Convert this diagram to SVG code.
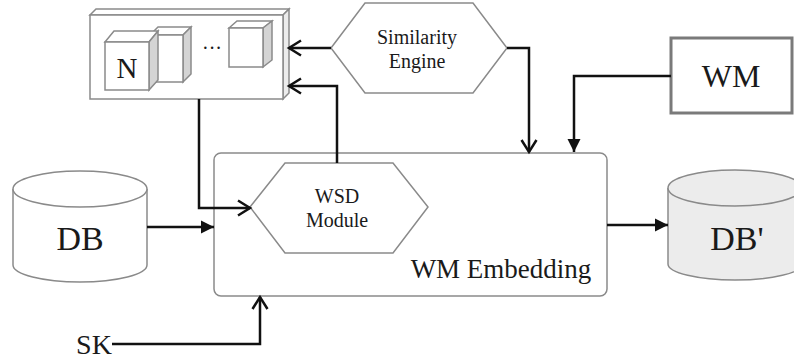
<svg xmlns="http://www.w3.org/2000/svg" width="794" height="364" viewBox="0 0 794 364">
<defs>
<style>
.shape{fill:#fff;stroke:#8a8a8a;stroke-width:1.5}
.side{fill:#d4d4d4;stroke:#8a8a8a;stroke-width:1.5}
.line{fill:none;stroke:#111;stroke-width:2.5}
.t{font-family:"Liberation Serif","Times New Roman",serif;fill:#1a1a1a;text-anchor:middle}
</style>
<marker id="open" markerUnits="userSpaceOnUse" markerWidth="16" markerHeight="18" refX="13" refY="9" orient="auto">
<path d="M1,1.5 L13,9 L1,16.5" fill="none" stroke="#111" stroke-width="2.5"/>
</marker>
<marker id="fill" markerUnits="userSpaceOnUse" markerWidth="14" markerHeight="14" refX="13" refY="7" orient="auto">
<path d="M0,0.5 L13,7 L0,13.5 Z" fill="#111"/>
</marker>
</defs>
<rect width="794" height="364" fill="#fff"/>

<g id="index-box">
<polygon class="shape" points="90,15 96,9 289,9 283,15"/>
<polygon class="side" points="283,15 289,9 289,93 283,99" style="fill:#ececec"/>
<rect class="shape" x="90" y="15" width="193" height="84"/>
<polygon class="shape" points="150,35 158,27 191,27 183,35"/>
<polygon class="side" points="183,35 191,27 191,74 183,82"/>
<rect class="shape" x="150" y="35" width="33" height="47"/>
<polygon class="shape" points="105,42 114,31 158,31 149,42"/>
<polygon class="side" points="149,42 158,31 158,80 149,90"/>
<rect class="shape" x="105" y="42" width="44" height="48"/>
<text class="t" x="127" y="78" font-size="29">N</text>
<text class="t" x="212" y="55" font-size="20">···</text>
<polygon class="shape" points="229,28 237,21 272,21 263,28"/>
<polygon class="side" points="263,28 272,21 272,60 263,67"/>
<rect class="shape" x="229" y="28" width="34" height="39"/>
</g>

<g id="similarity-engine">
<polygon class="shape" points="331,48 365,3 473,3 507,48 473,93 365,93"/>
<text class="t" x="417" y="44" font-size="20">Similarity</text>
<text class="t" x="417" y="68" font-size="20">Engine</text>
</g>

<g id="wm">
<rect x="671" y="38" width="121" height="75" fill="#fff" stroke="#7a7a7a" stroke-width="3"/>
<text class="t" x="731" y="87" font-size="32">WM</text>
</g>

<g id="db">
<path class="shape" d="M13,189 L13,265 A67,17 0 0 0 147,265 L147,189"/>
<ellipse class="shape" cx="80" cy="189" rx="67" ry="18"/>
<text class="t" x="80" y="250" font-size="34">DB</text>
</g>

<g id="wm-embedding">
<rect class="shape" x="214" y="153" width="393" height="143" rx="7"/>
<text class="t" x="501" y="278" font-size="27">WM Embedding</text>
</g>

<g id="wsd-module">
<polygon class="shape" points="250,207 285,163 393,163 428,207 393,253 285,253"/>
<text class="t" x="337" y="203" font-size="20">WSD</text>
<text class="t" x="337" y="227" font-size="20">Module</text>
</g>

<g id="db-prime">
<path class="shape" style="fill:#ececec" d="M668,188 L668,264 A67,16 0 0 0 802,264 L802,188"/>
<ellipse class="shape" style="fill:#ececec" cx="735" cy="188" rx="67" ry="18"/>
<text class="t" x="737" y="250" font-size="34">DB'</text>
</g>

<g id="sk">
<text class="t" x="94" y="354" font-size="28">SK</text>
</g>

<g id="connectors">
<path class="line" d="M331,48 L289,48" marker-end="url(#open)"/>
<path class="line" d="M337,163 L337,86 L289,86" marker-end="url(#open)"/>
<path class="line" d="M507,48 L529,48 L529,152" marker-end="url(#open)"/>
<path class="line" d="M671,76 L574,76 L574,152" marker-end="url(#fill)"/>
<path class="line" d="M199,99 L199,208 L250,208" marker-end="url(#open)"/>
<path class="line" d="M147,227 L214,227" marker-end="url(#fill)"/>
<path class="line" d="M607,225 L668,225" marker-end="url(#fill)"/>
<path class="line" d="M112,344 L260,344 L260,297" marker-end="url(#open)"/>
</g>
</svg>
